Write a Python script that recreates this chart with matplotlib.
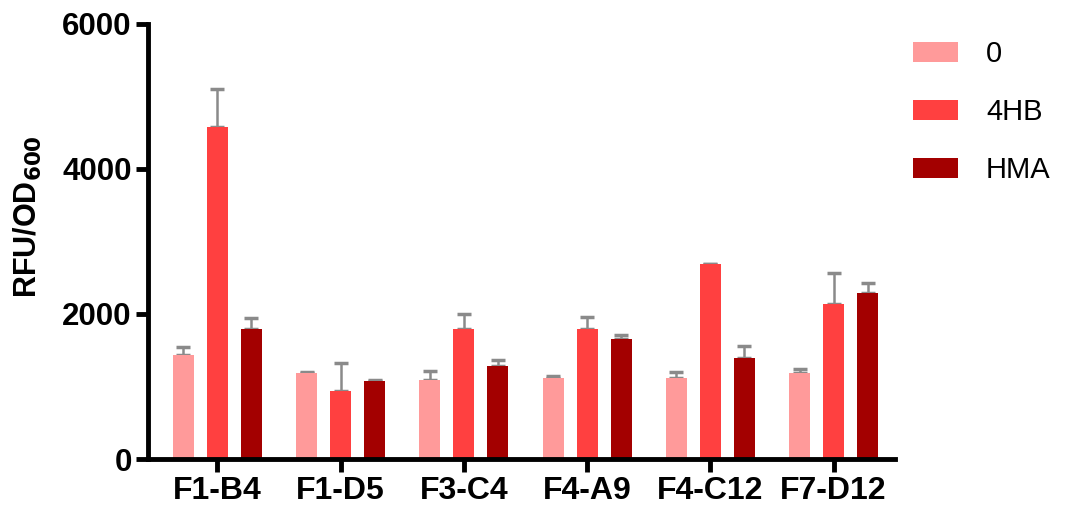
import numpy as np
import matplotlib
matplotlib.use('Agg')
import matplotlib.pyplot as plt

plt.rcParams['font.family'] = ['Liberation Sans', 'DejaVu Sans']

strains = ['F1-B4', 'F1-D5', 'F3-C4', 'F4-A9', 'F4-C12', 'F7-D12']
groups = ['0', '4HB', 'HMA']
vals_0 = [1435, 1185, 1090, 1115, 1115, 1185]
vals_4hb = [4580, 940, 1795, 1795, 2690, 2140]
vals_hma = [1795, 1075, 1285, 1655, 1395, 2290]
err_0 = [110, 20, 120, 30, 85, 50]
err_4hb = [520, 385, 205, 165, 0, 430]
err_hma = [150, 10, 80, 55, 165, 140]
colors = ['#ff9a9a', '#ff4040', '#a30000']

fig = plt.figure(figsize=(10.67, 5.17), dpi=100)
ax = fig.add_axes([0.139, 0.112, 0.70, 0.842])

x = np.arange(len(strains))
w = 0.17
off = 0.276
for k, (v, e) in enumerate(zip([vals_0, vals_4hb, vals_hma], [err_0, err_4hb, err_hma])):
    pos = x + (k - 1) * off
    ax.bar(pos, v, w, color=colors[k], label=groups[k], zorder=2)
    ax.errorbar(pos, v, yerr=[np.zeros(len(e)), e], fmt='none', ecolor='#8a8a8a',
                elinewidth=1.8, capsize=5, capthick=2.5, zorder=1)

ax.set_xlim(-0.56, 5.5)
ax.set_ylim(0, 6000)
ax.set_yticks([0, 2000, 4000, 6000])
ax.set_xticks(x)
ax.set_xticklabels(strains, fontsize=23, fontweight='bold')
for t in ax.get_yticklabels():
    t.set_fontsize(22.5)
    t.set_fontweight('bold')
ax.set_ylabel('RFU/OD$_{\\mathbf{600}}$', fontsize=22, fontweight='bold')
ax.yaxis.set_label_coords(-0.139, 0.557)
ax.spines['top'].set_visible(False)
ax.spines['right'].set_visible(False)
ax.spines['left'].set_linewidth(3.5)
ax.spines['bottom'].set_linewidth(3.5)
ax.tick_params(width=3.5, length=9, pad=3)

fig.legend(loc='upper left', bbox_to_anchor=(0.842, 0.95), frameon=False,
           fontsize=21, handlelength=1.55, handleheight=0.7, labelspacing=1.02,
           handletextpad=0.95, borderpad=0)

fig.savefig('out.png', dpi=100)
